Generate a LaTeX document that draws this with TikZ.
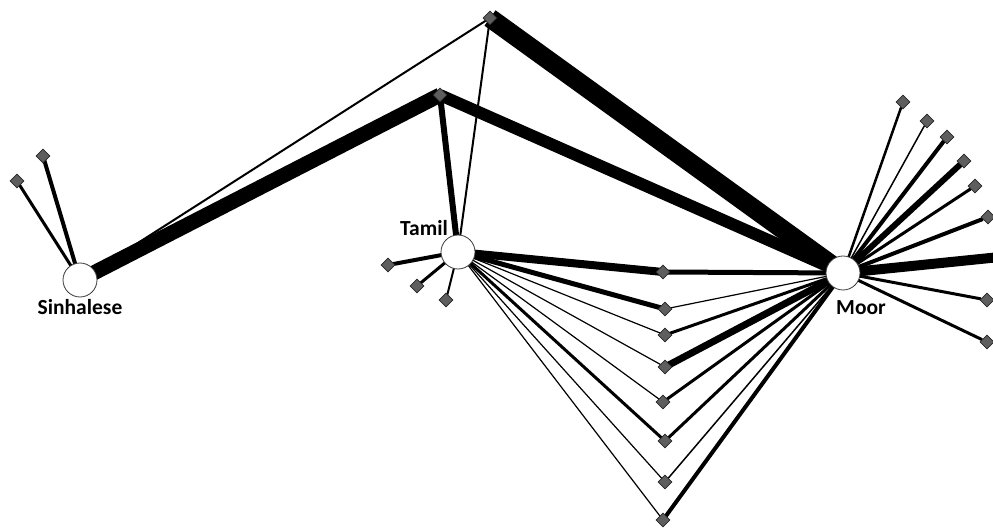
\documentclass[tikz,border=0pt]{standalone}
\usepackage{fontspec}
\setsansfont{Carlito}
\usetikzlibrary{shapes.geometric, backgrounds}
\definecolor{dot}{HTML}{5E5E5E}
\definecolor{rim}{HTML}{3A3A3A}

\begin{document}
\begin{tikzpicture}[x=1pt, y=-1pt,
  hub/.style={circle, draw=rim, fill=white, minimum size=34pt, inner sep=0pt, line width=0.8pt},
  leaf/.style={diamond, draw=black!85, fill=dot, minimum size=14pt, inner sep=0pt, line width=0.7pt},
  lbl/.style={font=\sffamily\bfseries\fontsize{21.5}{24}\selectfont, inner sep=0pt},
  tie/.style={line width=#1pt, black}
]
  \useasboundingbox (0,0) rectangle (993,529);

  % the three groups
  \node[hub] (sin) at (80,280) {};
  \node[hub] (tam) at (458,252) {};
  \node[hub] (moo) at (843,273) {};
  \node[lbl] (sinl) at (80,307) {Sinhalese};
  \node[lbl, anchor=east] (taml) at (448,228) {Tamil};
  \node[lbl] (mool) at (861,308) {Moor};

  % shared points up top
  \node[leaf] (ta) at (490,18) {};
  \node[leaf] (tb) at (440,95) {};

  % Sinhalese only
  \node[leaf] (sa) at (43,156) {};
  \node[leaf] (sb) at (17,181) {};

  % Tamil only
  \node[leaf] (ma) at (388,265) {};
  \node[leaf] (mb) at (417,286) {};
  \node[leaf] (mc) at (446,300) {};

  % Tamil and Moor
  \node[leaf] (f1) at (663,272) {};
  \node[leaf] (f2) at (665,309) {};
  \node[leaf] (f3) at (665,335) {};
  \node[leaf] (f4) at (665,367) {};
  \node[leaf] (f5) at (663,402) {};
  \node[leaf] (f6) at (665,441) {};
  \node[leaf] (f7) at (665,482) {};
  \node[leaf] (f8) at (663,520) {};

  % Moor only
  \node[leaf] (r1) at (903,102) {};
  \node[leaf] (r2) at (927,121) {};
  \node[leaf] (r3) at (947,137) {};
  \node[leaf] (r4) at (964,161) {};
  \node[leaf] (r5) at (975,186) {};
  \node[leaf] (r6) at (988,217) {};
  \coordinate (r7) at (1000,257);
  \node[leaf] (r8) at (987,300) {};
  \node[leaf] (r9) at (987,342) {};

  \begin{scope}[on background layer]
    \draw[tie=2] (sin.center) -- (ta.center);
    \draw[tie=15] (sin.center) -- (tb.center);
    \draw[tie=4] (sin.center) -- (sa.center);
    \draw[tie=3] (sin.center) -- (sb.center);

    \draw[tie=19] (ta.center) -- (moo.center);
    \draw[tie=2] (ta.center) -- (tam.center);
    \draw[tie=12] (tb.center) -- (moo.center);
    \draw[tie=6] (tb.center) -- (tam.center);

    \draw[tie=4] (tam.center) -- (ma.center);
    \draw[tie=3] (tam.center) -- (mb.center);
    \draw[tie=2] (tam.center) -- (mc.center);

    \foreach \f/\w in {f1/8, f2/5, f3/1.2, f4/1.2, f5/1.2, f6/3, f7/1.2, f8/1.2}
      \draw[tie=\w] (tam.center) -- (\f.center);
    \foreach \f/\w in {f1/5, f2/1.2, f3/3, f4/7, f5/3, f6/3, f7/1.5, f8/4}
      \draw[tie=\w] (moo.center) -- (\f.center);

    \foreach \r/\w in {r1/2.5, r2/1.5, r3/4, r4/6, r5/3, r6/4, r7/10, r8/3, r9/3}
      \draw[tie=\w] (moo.center) -- (\r);
  \end{scope}
\end{tikzpicture}
\end{document}
